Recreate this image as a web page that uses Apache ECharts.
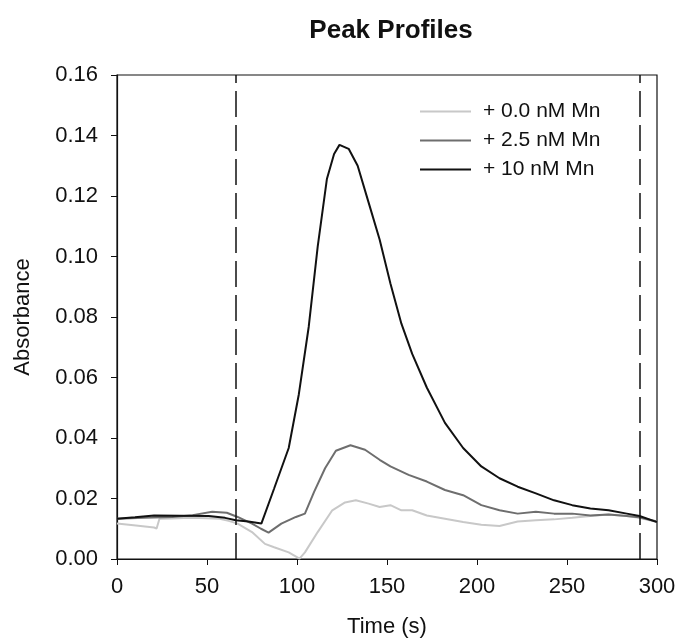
<!DOCTYPE html>
<html><head><meta charset="utf-8">
<script src="https://cdn.jsdelivr.net/npm/echarts@6/dist/echarts.min.js"></script>
<style>html,body{margin:0;padding:0;background:#fff}#c{width:679px;height:640px}</style>
</head><body><div id="c"></div>
<script>
var seriesNames = ['+ 0.0 nM Mn', '+ 2.5 nM Mn', '+ 10 nM Mn'];
var xTicks = [0, 50, 100, 150, 200, 250, 300];
var markers = [66.1, 290.3];

var t0 = [0, 10.5, 20.6, 22, 23.6, 30, 40.8, 50, 57, 62, 67, 75, 82.2, 87.3, 95.4, 101.4, 104.4, 111.5, 119.6, 126.7, 132.7, 139.8, 145.9, 151.9, 158, 164, 172.1, 182.2, 192.3, 202.4, 212.5, 222.6, 232.7, 242.8, 252.9, 263, 273.1, 283.2, 290, 300];
var a0 = [0.0117, 0.0111, 0.0104, 0.0101, 0.0133, 0.0134, 0.0136, 0.0135, 0.0133, 0.0126, 0.0117, 0.0089, 0.0050, 0.0039, 0.0022, 0.0001, 0.0022, 0.0089, 0.0161, 0.0187, 0.0194, 0.0183, 0.0172, 0.0178, 0.0161, 0.0161, 0.0144, 0.0133, 0.0122, 0.0113, 0.0109, 0.0124, 0.0128, 0.0131, 0.0136, 0.0142, 0.0147, 0.0142, 0.0136, 0.0122];

var t1 = [0, 15, 30.7, 42, 52.9, 61, 67, 75, 80, 84.2, 91.3, 99.4, 104.4, 109.5, 115.6, 121.6, 129.7, 137.8, 145.9, 151.9, 162, 172.1, 182.2, 192.3, 202.4, 212.5, 222.6, 232.7, 242.8, 252.9, 263, 273.1, 283.2, 290, 300];
var a1 = [0.0133, 0.0136, 0.0139, 0.0145, 0.0156, 0.0153, 0.0139, 0.0117, 0.0100, 0.0087, 0.0117, 0.0139, 0.0150, 0.0222, 0.0300, 0.0358, 0.0376, 0.0361, 0.0328, 0.0306, 0.0278, 0.0256, 0.0228, 0.0211, 0.0178, 0.0161, 0.0150, 0.0156, 0.0150, 0.0150, 0.0144, 0.0147, 0.0142, 0.0138, 0.0124];

var t2 = [0, 10, 20.6, 35, 50.9, 60, 66, 73, 80.2, 87.3, 95.4, 101, 106.5, 111.5, 116.6, 120.6, 123.6, 128.7, 133.7, 139.8, 145.9, 151.9, 158, 164, 172.1, 182.2, 192.3, 202.4, 212.5, 222.6, 232.7, 242.8, 252.9, 263, 273.1, 283.2, 290.3, 300];
var a2 = [0.0133, 0.0138, 0.0144, 0.0143, 0.0142, 0.0136, 0.0128, 0.0124, 0.0117, 0.0233, 0.0367, 0.0544, 0.0767, 0.1033, 0.1256, 0.1339, 0.1369, 0.1356, 0.1300, 0.1178, 0.1056, 0.0911, 0.0778, 0.0678, 0.0567, 0.0450, 0.0367, 0.0306, 0.0267, 0.0239, 0.0217, 0.0194, 0.0178, 0.0167, 0.0161, 0.0150, 0.0142, 0.0122];

function zip(t, a) { return t.map(function (v, i) { return [v, a[i]]; }); }

var FONT = '"Liberation Sans", Arial, sans-serif';
var chart = echarts.init(document.getElementById('c'));
chart.setOption({
  animation: false,
  backgroundColor: '#fff',
  graphic: [{
    type: 'text', x: 391, y: 31,
    style: { text: 'Peak Profiles', textAlign: 'center', textVerticalAlign: 'middle',
      font: 'bold 26px ' + FONT, fill: '#111' }
  }],
  grid: { left: 117, right: 22, top: 75, bottom: 81, show: true, borderColor: '#111', borderWidth: 1.2,
    backgroundColor: 'transparent', containLabel: false, outerBoundsMode: 'none' },
  legend: {
    orient: 'vertical', left: 415, top: 96, itemWidth: 51, itemHeight: 2, itemGap: 8,
    icon: 'rect',
    data: seriesNames,
    textStyle: { fontFamily: FONT, fontSize: 21, lineHeight: 20, color: '#111', padding: [0, 0, 0, 7] }
  },
  xAxis: {
    type: 'value', min: 0, max: 300, interval: 50,
    name: 'Time (s)', nameLocation: 'middle', nameGap: 57,
    nameTextStyle: { fontFamily: FONT, fontSize: 22, color: '#111' },
    axisLine: { show: true, lineStyle: { color: '#111', width: 1.2 } },
    axisTick: { show: true, length: 6, lineStyle: { color: '#111' } },
    axisLabel: { margin: 17, fontFamily: FONT, fontSize: 22, color: '#111',
      formatter: function (v) { return xTicks.indexOf(v) >= 0 ? String(v) : ''; } },
    splitLine: { show: false }
  },
  yAxis: {
    type: 'value', min: 0, max: 0.16, interval: 0.02,
    name: 'Absorbance', nameLocation: 'middle', nameGap: 83,
    nameTextStyle: { fontFamily: FONT, fontSize: 22, color: '#111' },
    axisLine: { show: true, lineStyle: { color: '#111', width: 1.2 } },
    axisTick: { show: true, length: 6, lineStyle: { color: '#111' } },
    axisLabel: { margin: 19, fontFamily: FONT, fontSize: 22, color: '#111',
      formatter: function (v) { return v.toFixed(2); } },
    splitLine: { show: false }
  },
  series: [
    { name: seriesNames[0], type: 'line', data: zip(t0, a0), showSymbol: false, symbol: 'none',
      lineStyle: { color: '#c8c8c8', width: 2 }, itemStyle: { color: '#c8c8c8' }, z: 2 },
    { name: seriesNames[1], type: 'line', data: zip(t1, a1), showSymbol: false, symbol: 'none',
      lineStyle: { color: '#6e6e6e', width: 2 }, itemStyle: { color: '#6e6e6e' }, z: 3 },
    { name: seriesNames[2], type: 'line', data: zip(t2, a2), showSymbol: false, symbol: 'none',
      lineStyle: { color: '#111', width: 2 }, itemStyle: { color: '#111' }, z: 4,
      markLine: {
        silent: true, symbol: ['none', 'none'], label: { show: false },
        lineStyle: { color: '#111', type: [26, 8], width: 1.5 },
        data: markers.map(function (m) { return { xAxis: m }; })
      } }
  ]
});
</script></body></html>
